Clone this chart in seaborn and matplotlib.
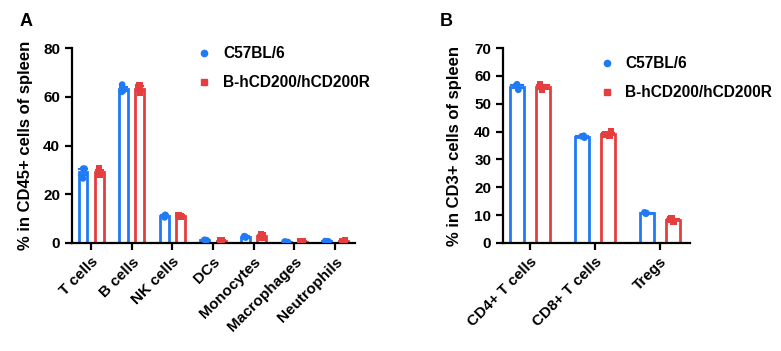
import numpy as np
import pandas as pd
import matplotlib
matplotlib.use("Agg")
import matplotlib.pyplot as plt
from matplotlib.lines import Line2D
import seaborn as sns

# data (3 mice per group)
groups = ["C57BL/6", "B-hCD200/hCD200R"]
colors = {"C57BL/6": "#1F7BF5", "B-hCD200/hCD200R": "#E53E3E"}
markers = {"C57BL/6": "o", "B-hCD200/hCD200R": "s"}

cells_a = ["T cells", "B cells", "NK cells", "DCs", "Monocytes", "Macrophages", "Neutrophils"]
wt_a = [[30.5, 30.5, 26.5], [65.0, 62.0, 62.5], [10.5, 11.5, 11.5], [1.2, 1.3, 1.1],
        [2.2, 2.8, 2.6], [0.5, 0.6, 0.4], [0.7, 0.8, 0.6]]
ko_a = [[30.5, 28.5, 28.0], [64.0, 61.5, 64.5], [11.5, 11.0, 10.8], [1.0, 1.1, 0.9],
        [2.0, 3.5, 3.0], [0.5, 0.7, 0.6], [0.5, 0.9, 0.7]]

cells_b = ["CD4+ T cells", "CD8+ T cells", "Tregs"]
wt_b = [[55.0, 56.5, 57.0], [37.8, 38.3, 38.5], [10.5, 11.0, 10.8]]
ko_b = [[55.0, 56.0, 57.0], [38.5, 40.0, 39.0], [7.8, 9.0, 8.5]]


def to_frame(cells, wt, ko):
    rows = []
    for c, a, b in zip(cells, wt, ko):
        for v in a:
            rows.append((c, groups[0], v))
        for v in b:
            rows.append((c, groups[1], v))
    return pd.DataFrame(rows, columns=["cell", "group", "value"])


plt.rcParams["font.family"] = ["Liberation Sans", "DejaVu Sans"]
plt.rcParams["font.weight"] = "bold"
plt.rcParams["axes.labelweight"] = "bold"

fig = plt.figure(figsize=(7.81, 3.51), dpi=100)
axA = fig.add_axes([72 / 781, 1 - 243 / 351, 283 / 781, 195 / 351])
axB = fig.add_axes([503 / 781, 1 - 243 / 351, 187 / 781, 195 / 351])


def panel(ax, df, order, ymax, ystep, ylabel, xlim):
    for g in groups:
        sub = df[df.group == g]
        sns.barplot(data=sub, x="cell", y="value", hue="group", hue_order=groups,
                    order=order, palette=colors, fill=False, width=0.8, gap=0.45,
                    dodge=True, errorbar="se", capsize=0.35, linewidth=2,
                    err_kws={"color": colors[g], "linewidth": 1.5},
                    legend=False, ax=ax)
        sns.stripplot(data=sub, x="cell", y="value", hue="group", hue_order=groups,
                      order=order, palette=colors, dodge=True, jitter=0.1,
                      marker=markers[g], size=4.8, linewidth=0, legend=False, ax=ax)
    ax.set_ylim(0, ymax)
    ax.set_yticks(np.arange(0, ymax + 1, ystep))
    ax.set_xlim(*xlim)
    ax.set_xlabel("")
    ax.set_ylabel(ylabel, fontsize=12, fontweight="bold")
    sns.despine(ax=ax)
    for s in ["left", "bottom"]:
        ax.spines[s].set_linewidth(1.6)
    ax.tick_params(width=1.6, length=5, labelsize=11)
    plt.setp(ax.get_xticklabels(), rotation=45, ha="right", rotation_mode="anchor",
             fontweight="bold")
    plt.setp(ax.get_yticklabels(), fontweight="bold")


panel(axA, to_frame(cells_a, wt_a, ko_a), cells_a, 80, 20,
      "% in CD45+ cells of spleen", (-0.47, 6.49))
panel(axB, to_frame(cells_b, wt_b, ko_b), cells_b, 70, 10,
      "% in CD3+ cells of spleen", (-0.415, 2.46))
axA.yaxis.set_label_coords(-0.138, 0.5)
axB.yaxis.set_label_coords(-0.22, 0.5)

handles = [Line2D([], [], linestyle="", marker=markers[g], color=colors[g],
                  markersize=4.5, label=g) for g in groups]
for ax, anchor in [(axA, (0.385, 1.08)), (axB, (0.43, 1.03))]:
    ax.legend(handles=handles, loc="upper left", bbox_to_anchor=anchor, frameon=False,
              prop={"weight": "bold", "size": 11.2}, handletextpad=0.6,
              labelspacing=0.9, handlelength=1.2)

fig.text(20 / 781, 1 - 22 / 351, "A", fontsize=13, fontweight="bold", va="center")
fig.text(440 / 781, 1 - 22 / 351, "B", fontsize=13, fontweight="bold", va="center")

fig.savefig("out.png", dpi=100)
